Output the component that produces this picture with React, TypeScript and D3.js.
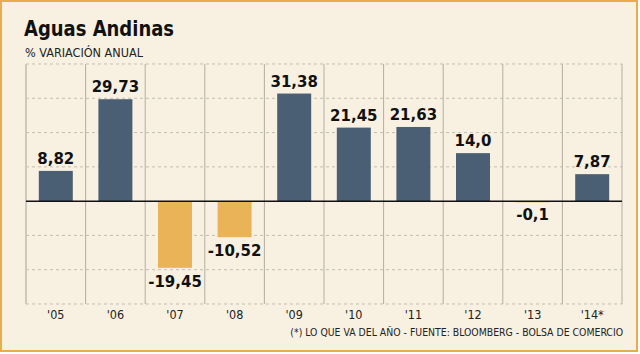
import React from "react";
import * as d3 from "d3";

const years = ["'05", "'06", "'07", "'08", "'09", "'10", "'11", "'12", "'13", "'14*"];
const values = [8.82, 29.73, -19.45, -10.52, 31.38, 21.45, 21.63, 14.0, -0.1, 7.87];
const labels = ["8,82", "29,73", "-19,45", "-10,52", "31,38", "21,45", "21,63", "14,0", "-0,1", "7,87"];
const gridTicks = [-30, -20, -10, 10, 20, 30, 40];

const W = 640;
const H = 354;
const COND = "'DejaVu Sans Condensed', 'DejaVu Sans', sans-serif";

export default function App() {
  const left = 26;
  const right = 622;
  const top = 64;
  const bottom = 304;

  const x = d3.scaleBand<string>().domain(years).range([left, right]).paddingInner(0).paddingOuter(0);
  const y = d3.scaleLinear().domain([-30, 40]).range([bottom, top]);
  const barW = 34;
  const y0 = y(0);

  return (
    <svg width={W} height={H} style={{ position: "absolute", left: 0, top: 0 }} fontFamily={COND}>
      <rect x={0} y={0} width={W} height={H} fill="#fff" />
      <rect x={1} y={1} width={636} height={350} fill="#f8f1e2" stroke="#e9ac4c" strokeWidth={2} />

      <text x={24} y={36} fontSize={21} fontWeight="bold" fill="#111" textLength={150} lengthAdjust="spacingAndGlyphs">
        Aguas Andinas
      </text>
      <text x={25} y={57} fontSize={12} fill="#222" textLength={118} lengthAdjust="spacingAndGlyphs">
        % VARIACIÓN ANUAL
      </text>

      {/* horizontal dashed grid */}
      {gridTicks.map((t) => (
        <line key={t} x1={left} x2={right} y1={y(t)} y2={y(t)} stroke="#c4bdb1" strokeDasharray="3,3" strokeWidth={1} />
      ))}

      {/* column separators */}
      {years.map((yr, i) =>
        i === 0 ? null : (
          <line key={yr} x1={x(yr)!} x2={x(yr)!} y1={top} y2={bottom} stroke="#b3ada3" strokeWidth={1} />
        )
      )}
      <line x1={right} x2={right} y1={top} y2={bottom} stroke="#b3ada3" strokeWidth={1} />
      <line x1={left} x2={left} y1={top} y2={bottom} stroke="#cfc8bc" strokeWidth={2} />

      {/* bars */}
      {values.map((v, i) => {
        const cx = x(years[i])! + x.bandwidth() / 2;
        const yTop = v >= 0 ? y(v) : y0;
        const h = Math.max(Math.abs(y(v) - y0), 1.2);
        return (
          <rect key={i} x={cx - barW / 2} y={yTop} width={barW} height={h} fill={v >= 0 ? "#4a5f73" : "#ebb358"} />
        );
      })}

      {/* zero line */}
      <line x1={left} x2={right} y1={y0} y2={y0} stroke="#111" strokeWidth={1.5} />

      {/* value labels */}
      {values.map((v, i) => {
        const cx = x(years[i])! + x.bandwidth() / 2;
        const ly = v >= 0 ? y(v) - 7 : y(v) + 19;
        return (
          <text key={i} x={cx} y={ly} textAnchor="middle" fontSize={15} fontWeight="bold" fill="#111" fontFamily="'DejaVu Sans', sans-serif">
            {labels[i]}
          </text>
        );
      })}

      {/* x labels */}
      {years.map((yr) => (
        <text key={yr} x={x(yr)! + x.bandwidth() / 2} y={319} textAnchor="middle" fontSize={12.5} fill="#222">
          {yr}
        </text>
      ))}

      <text x={623} y={336} textAnchor="end" fontSize={10.4} fill="#222">
        (*) LO QUE VA DEL AÑO - FUENTE: BLOOMBERG - BOLSA DE COMERCIO
      </text>
    </svg>
  );
}
